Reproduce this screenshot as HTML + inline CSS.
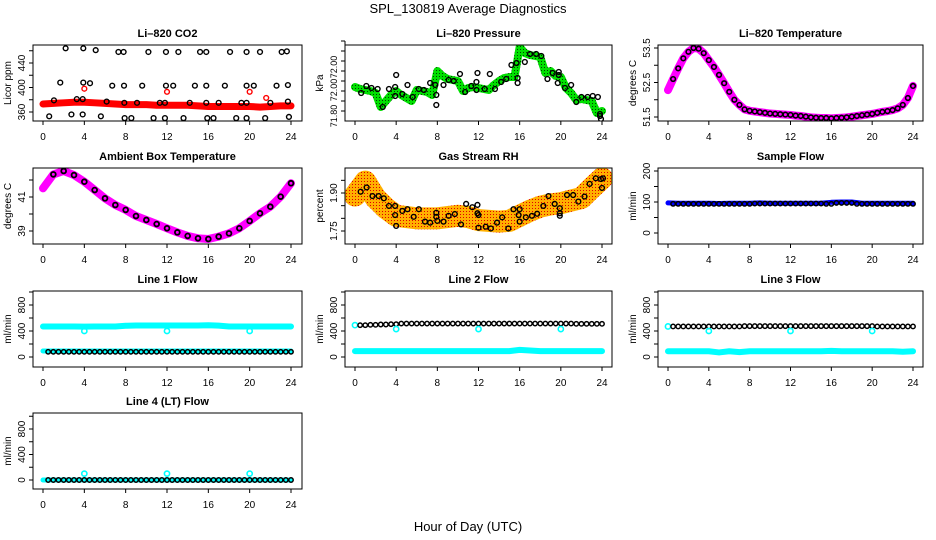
<!DOCTYPE html>
<html><head><meta charset="utf-8"><style>
body{margin:0;background:#fff}
svg{display:block;font-family:"Liberation Sans",sans-serif}
</style></head><body>
<svg id="c" width="936" height="540" viewBox="0 0 936 540">
<defs>
<pattern id="pGreen" width="3" height="3" patternUnits="userSpaceOnUse"><rect width="3" height="3" fill="#00e000"/><rect x="1" y="1" width="1" height="1" fill="#004000"/></pattern>
<pattern id="pRH" width="3" height="3" patternUnits="userSpaceOnUse"><rect width="3" height="3" fill="#ffb000"/><rect x="1" y="1" width="1" height="1" fill="#e00000"/></pattern>
</defs>
<text x="468" y="13" text-anchor="middle" font-size="13">SPL_130819  Average Diagnostics</text>
<text x="468" y="531" text-anchor="middle" font-size="13">Hour of Day (UTC)</text>
</svg>
<script>
const hours25=[0,1,2,3,4,5,6,7,8,9,10,11,12,13,14,15,16,17,18,19,20,21,22,23,24];
const half49=[0,0.5,1,1.5,2,2.5,3,3.5,4,4.5,5,5.5,6,6.5,7,7.5,8,8.5,9,9.5,10,10.5,11,11.5,12,12.5,13,13.5,14,14.5,15,15.5,16,16.5,17,17.5,18,18.5,19,19.5,20,20.5,21,21.5,22,22.5,23,23.5,24];
const xTicks=[0,4,8,12,16,20,24];
// CO2
const co2Red=[373,374,375,376,376,375,374,373,372,372,372,371,371,371,371,370,369,369,369,369,369,368,369,370,370];
const co2BlackH=[0.6,1.06,1.67,2.19,2.75,3.27,3.9,3.9,3.84,3.84,4.55,5.1,5.6,6.16,6.7,7.3,7.8,7.84,7.87,7.9,8.55,9.1,9.6,10.2,10.7,11.3,11.8,11.8,11.9,11.9,12.6,13.1,13.6,14.2,14.7,15.2,15.8,15.8,15.8,15.9,16.5,17.0,17.6,18.1,18.7,19.2,19.7,19.7,19.7,19.7,20.4,21.0,21.5,22.0,22.6,23.1,23.6,23.7,23.7,23.8];
const co2BlackV=[353,379,408,464,356,381,408,464,381,356,407,461,353,377,403,458,458,403,375,350,350,375,403,458,350,375,350,375,403,458,403,458,350,375,403,458,458,403,375,350,350,375,403,458,350,375,458,403,375,350,403,458,350,375,403,458,459,404,377,352];
const co2OutH=[4,12,20,21.6];
const co2OutV=[398,393,393,383];
// Pressure
const presGreen=[71.92,71.91,71.905,71.90,71.89,71.82,71.85,71.88,71.90,71.88,71.865,71.85,71.905,71.90,71.895,71.88,72.0,71.975,71.96,71.955,71.95,71.90,71.915,71.92,71.915,71.91,71.905,71.93,71.95,71.965,71.97,71.97,72.12,72.09,72.08,72.075,72.07,71.99,72.0,71.975,71.97,71.915,71.89,71.855,71.86,71.855,71.85,71.79,71.80];
const presBlackH=[0.6,1.1,1.6,2.2,2.7,3.3,3.9,3.9,4,4.6,5.1,5.6,6.2,6.7,7.3,7.8,7.9,7.9,8.6,9.1,9.6,10.2,10.7,11.3,11.8,11.8,11.9,12.6,13.1,13.6,14.2,14.7,15.2,15.7,15.8,15.8,16.5,17.0,17.6,18.1,18.7,19.2,19.7,19.8,19.8,20.4,21.0,21.5,22.0,22.6,23.1,23.6,23.8,23.8,23.9];
const presBlackV=[71.89,71.925,71.915,71.91,71.82,71.91,71.92,71.875,71.98,71.885,71.93,71.87,71.91,71.905,71.94,71.93,71.88,71.83,71.93,71.955,71.95,71.985,71.895,71.925,71.945,71.905,71.99,71.91,71.985,71.91,71.945,71.96,72.03,72.04,71.965,71.94,72.045,72.085,72.085,72.075,71.96,71.99,71.94,71.98,71.995,71.915,71.93,71.845,71.87,71.87,71.875,71.87,71.785,71.775,71.76];
// Li-820 temperature (half-hourly)
const liTemp=[52.28,52.6,52.91,53.2,53.39,53.5,53.48,53.35,53.15,52.95,52.72,52.48,52.23,52.0,51.85,51.72,51.68,51.66,51.64,51.62,51.6,51.59,51.58,51.57,51.56,51.54,51.53,51.51,51.49,51.48,51.47,51.47,51.46,51.47,51.48,51.49,51.51,51.53,51.55,51.57,51.59,51.62,51.65,51.67,51.7,51.75,51.85,52.05,52.4];
// Ambient box temperature
const ambTemp=[41.51,42.33,42.53,42.29,41.9,41.41,40.92,40.53,40.24,39.88,39.65,39.41,39.16,38.92,38.71,38.57,38.53,38.67,38.86,39.16,39.59,40.04,40.43,41.02,41.81];
// RH
const rhCloud=[1.89,1.945,1.88,1.84,1.81,1.805,1.80,1.80,1.80,1.805,1.81,1.805,1.793,1.79,1.787,1.79,1.81,1.83,1.846,1.855,1.86,1.87,1.88,1.92,1.958];
const rhBlackH=[0.55,1.13,1.7,2.3,2.8,3.3,3.9,3.9,4.0,4.6,5.1,5.7,6.2,6.8,7.3,7.9,7.9,8.0,8.6,9.1,9.7,10.3,10.8,11.4,11.9,11.9,12.0,12.0,12.7,13.2,13.8,14.3,14.9,15.4,16.0,15.9,16.0,16.6,17.2,17.7,18.3,18.8,19.4,19.9,19.9,19.9,20.6,21.2,21.7,22.3,22.8,23.4,23.9,24.0,24.1];
const rhBlackV=[1.905,1.922,1.888,1.888,1.879,1.849,1.849,1.813,1.77,1.829,1.836,1.806,1.836,1.787,1.783,1.822,1.806,1.79,1.787,1.81,1.817,1.776,1.857,1.844,1.853,1.82,1.813,1.763,1.767,1.76,1.783,1.804,1.76,1.836,1.836,1.813,1.787,1.804,1.81,1.818,1.849,1.888,1.857,1.84,1.82,1.81,1.892,1.892,1.866,1.886,1.936,1.958,1.955,1.92,1.958];
// Sample flow
const sampleBlue=[97,96,96,96,96,95,96,96,96,97,96,96,96,96,96,96,99,100,100,96,96,96,96,96,96];
const sampleBlack=[94,94,94,94,94,94,94,94,94,95,95,95,95,95,95,95,94,97,97,94,94,94,94,94,94];
// Flows
const l1CyanHi=[470,470,470,470,468,470,470,470,480,485,485,485,485,485,485,485,488,482,470,470,470,470,470,470,470];
const l1CyanLo=[92,92,92,92,92,92,92,92,92,92,92,92,92,92,92,92,92,92,92,92,92,92,92,92,92];
const l1Black=[80,80,80,80,80,80,80,80,80,80,80,80,80,80,80,80,80,80,80,80,80,80,80,80,80];
const l2Black=[490,490,495,500,505,515,515,515,515,515,515,515,515,515,515,515,515,515,515,515,515,515,510,510,510];
const l2CyanLo=[90,90,90,90,90,90,90,90,90,90,90,90,90,90,90,90,110,100,90,90,90,90,90,90,90];
const l3Black=[470,470,470,470,470,470,470,470,475,475,475,475,475,475,475,475,475,475,475,475,475,470,470,470,470];
const l3CyanLo=[88,88,88,88,88,70,88,75,88,88,88,88,88,88,88,88,95,88,88,88,88,88,88,80,88];
const l4Black=[0,0,0,0,0,0,0,0,0,0,0,0,0,0,0,0,0,0,0,0,0,0,0,0,0];
const l4Cyan=[0,0,0,0,0,0,0,0,0,0,0,0,0,0,0,0,0,0,0,0,0,0,0,0,0];
const dipH=[4,12,20];
const l1DipV=[400,400,400];
const l2DipV=[430,430,430];
const l3DipV=[400,400,400];
const l4BumpV=[100,100,100];

const NS='http://www.w3.org/2000/svg';
const svg=document.getElementById('c');
function el(tag,attrs,parent){const e=document.createElementNS(NS,tag);for(const k in attrs)e.setAttribute(k,attrs[k]);(parent||svg).appendChild(e);return e;}
const cols=[{L:33,R:302,x0:43,x24:291},{L:345,R:612,x0:355,x24:602},{L:658,R:923,x0:668,x24:913}];
const tops=[45,168,291,413];const PH=76;

function panel(name,c,r,title,ytitle,cal,yticks,ylabels,lfs){
  const C=cols[c],T=tops[r],B=T+PH;
  const g=el('g',{});
  
  
  const X=h=>C.x0+h*(C.x24-C.x0)/24;
  const Y=v=>cal[1]+(v-cal[0])*(cal[3]-cal[1])/(cal[2]-cal[0]);
  const t=el('text',{x:(C.L+C.R)/2,y:T-8,'text-anchor':'middle','font-size':11,'font-weight':'bold'},g);t.textContent=title;
  
  
  const yt=el('text',{transform:`translate(${C.L-22},${(T+B)/2}) rotate(-90)`,'text-anchor':'middle','font-size':10},g);yt.textContent=ytitle;
  
  
  const ax=el('g',{stroke:'#000','stroke-width':1},g);
  
  
  el('line',{x1:X(0),x2:X(24),y1:B,y2:B},ax);
  xTicks.forEach(h=>{el('line',{x1:X(h),x2:X(h),y1:B,y2:B+4},ax);
    const tl=el('text',{x:X(h),y:B+19,'text-anchor':'middle','font-size':10,stroke:'none'},ax);tl.textContent=h;});
  el('line',{x1:C.L,x2:C.L,y1:Y(yticks[0]),y2:Y(yticks[yticks.length-1])},ax);
  yticks.forEach(v=>el('line',{x1:C.L-4,x2:C.L,y1:Y(v),y2:Y(v)},ax));
  ylabels.forEach(l=>{const tl=el('text',{transform:`translate(${C.L-8},${Y(l[0])}) rotate(-90)`,'text-anchor':'middle','font-size':lfs||10,stroke:'none'},ax);tl.textContent=l[1];});
  const clipId='clip'+c+r;
  const cp=el('clipPath',{id:clipId},g);el('rect',{x:C.L,y:T,width:C.R-C.L,height:PH},cp);
  const plot=el('g',{'clip-path':`url(#${clipId})`},g);
  const box=el('rect',{x:C.L,y:T,width:C.R-C.L,height:PH,fill:'none',stroke:'#000','stroke-width':1},g);
  
  
  return {X,Y,plot,g};
}
function band(p,name,hs,vs,color,w){
  const pl=el('polyline',{points:hs.map((h,i)=>p.X(h)+','+p.Y(vs[i])).join(' '),fill:'none',stroke:color,'stroke-width':w,'stroke-linecap':'round','stroke-linejoin':'round'},p.plot);
  
  
}
function pts(p,name,hs,vs,color,r,sw){
  const g=el('g',{fill:'none',stroke:color,'stroke-width':sw||1.4},p.plot);
  
  
  hs.forEach((h,i)=>{const c=el('circle',{cx:p.X(h),cy:p.Y(vs[i]),r:r||2.4},g);
    
    });
}
function shift(a,d){return a.map(h=>h+d);}

// CO2
let p=panel('co2',0,0,'Li\u2013820 CO2','Licor ppm',[360,112,440,63],[360,380,400,420,440,460],[[360,'360'],[400,'400'],[440,'440']]);
band(p,'co2-red-band',hours25,co2Red,'#f00',7);
pts(p,'co2-black-points',co2BlackH,co2BlackV,'#000');
pts(p,'co2-red-outliers',co2OutH,co2OutV,'#f00');
// Pressure
p=panel('pressure',1,0,'Li\u2013820 Pressure','kPa',[71.80,111,72.0,71],[71.80,71.85,71.90,71.95,72.0,72.05,72.10,72.15],[[71.775,'71.80'],[71.905,'72.00'],[72.02,'72.00']],9);
band(p,'pressure-green-band',half49,presGreen,'url(#pGreen)',8);
pts(p,'pressure-black-points',presBlackH,presBlackV,'#000');
// Li temp
p=panel('li-temp',2,0,'Li\u2013820 Temperature','degrees C',[51.5,117,53.5,48],[51.5,52,52.5,53,53.5],[[51.5,'51.5'],[52.5,'52.5'],[53.5,'53.5']]);
band(p,'li-temp-magenta-band',half49,liTemp,'#f0f',8);
pts(p,'li-temp-black-points',half49.slice(1),liTemp.slice(1),'#000',2.3,1.6);
// Ambient
p=panel('ambient-temp',0,1,'Ambient Box Temperature','degrees C',[39,231,41,197],[39,40,41,42],[[39,'39'],[41,'41']]);
band(p,'ambient-magenta-band',hours25,ambTemp,'#f0f',8);
pts(p,'ambient-black-points',hours25.slice(1),ambTemp.slice(1),'#000',2.4,1.8);
// RH
p=panel('rh',1,1,'Gas Stream RH','percent',[1.75,231,1.90,193],[1.75,1.80,1.85,1.90,1.95],[[1.75,'1.75'],[1.90,'1.90']]);
band(p,'rh-orange-cloud',hours25,rhCloud,'url(#pRH)',22);
pts(p,'rh-black-points',rhBlackH,rhBlackV,'#000');
// Sample flow
p=panel('sample-flow',2,1,'Sample Flow','ml/min',[0,233,100,202],[0,50,100,150,200],[[0,'0'],[100,'100'],[200,'200']]);
band(p,'sample-blue-band',hours25,sampleBlue,'#00f',5);
pts(p,'sample-black-points',shift(hours25.slice(1),-0.5),sampleBlack.slice(1),'#000',2.2,1.5);
pts(p,'sample-black-points-2',hours25.slice(1),sampleBlack.slice(1),'#000',2.2,1.5);
// Flows
const fT=[0,200,400,600,800,1000],fL=[[0,'0'],[400,'400'],[800,'800']];
p=panel('line1-flow',0,2,'Line 1 Flow','ml/min',[0,357,800,305],fT,fL);
band(p,'line1-cyan-high',hours25,l1CyanHi,'#0ff',6);
band(p,'line1-cyan-low',hours25,l1CyanLo,'#0ff',5);
pts(p,'line1-black-points',shift(hours25.slice(1),-0.5),l1Black.slice(1),'#000',2.2,1.5);
pts(p,'line1-black-points-2',hours25.slice(1),l1Black.slice(1),'#000',2.2,1.5);
pts(p,'line1-cyan-dips',dipH,l1DipV,'#0ff',2.6,1.6);
p=panel('line2-flow',1,2,'Line 2 Flow','ml/min',[0,357,800,305],fT,fL);
band(p,'line2-cyan-low',hours25,l2CyanLo,'#0ff',6);
pts(p,'line2-cyan-start',[0],[490],'#0ff',2.6,1.6);
pts(p,'line2-black-points',shift(hours25.slice(1),-0.5),l2Black.slice(1),'#000',2.2,1.5);
pts(p,'line2-black-points-2',hours25.slice(1),l2Black.slice(1),'#000',2.2,1.5);
pts(p,'line2-cyan-dips',dipH,l2DipV,'#0ff',2.6,1.6);
p=panel('line3-flow',2,2,'Line 3 Flow','ml/min',[0,357,800,305],fT,fL);
band(p,'line3-cyan-low',hours25,l3CyanLo,'#0ff',6);
pts(p,'line3-cyan-start',[0],[470],'#0ff',2.6,1.6);
pts(p,'line3-black-points',shift(hours25.slice(1),-0.5),l3Black.slice(1),'#000',2.2,1.5);
pts(p,'line3-black-points-2',hours25.slice(1),l3Black.slice(1),'#000',2.2,1.5);
pts(p,'line3-cyan-dips',dipH,l3DipV,'#0ff',2.6,1.6);
p=panel('line4-flow',0,3,'Line 4 (LT) Flow','ml/min',[0,480,800,429],fT,fL);
band(p,'line4-cyan-band',hours25,l4Cyan,'#0ff',5);
pts(p,'line4-black-points',shift(hours25.slice(1),-0.5),l4Black.slice(1),'#000',2.2,1.5);
pts(p,'line4-black-points-2',hours25.slice(1),l4Black.slice(1),'#000',2.2,1.5);
pts(p,'line4-cyan-bumps',dipH,l4BumpV,'#0ff',2.6,1.6);
</script>
</body></html>
